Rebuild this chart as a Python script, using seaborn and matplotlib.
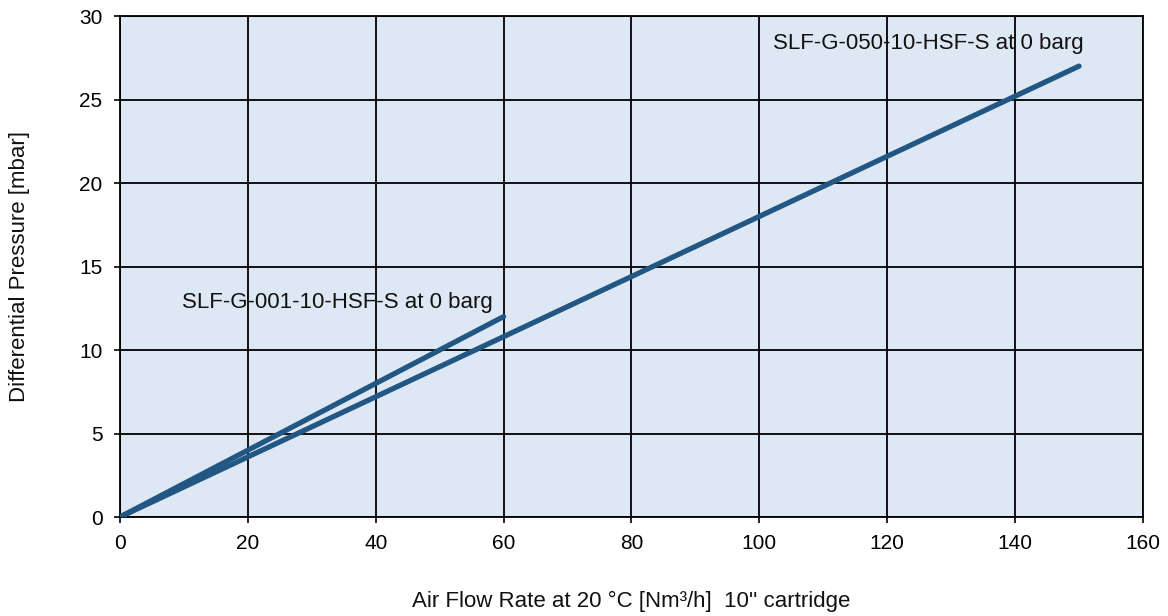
import matplotlib
matplotlib.use("Agg")
import matplotlib.pyplot as plt
import seaborn as sns
import pandas as pd

# Data
flow_001 = [0, 60]
dp_001 = [0, 12]
flow_050 = [0, 150]
dp_050 = [0, 27]
label_001 = "SLF-G-001-10-HSF-S at 0 barg"
label_050 = "SLF-G-050-10-HSF-S at 0 barg"
x_ticks = [0, 20, 40, 60, 80, 100, 120, 140, 160]
y_ticks = [0, 5, 10, 15, 20, 25, 30]

sns.set_style("ticks")
plt.rcParams['font.family'] = ['Liberation Sans', 'DejaVu Sans']

fig = plt.figure(figsize=(11.68, 6.16), dpi=100)
ax = fig.add_axes([0.1027, 0.1607, 0.8759, 0.8133])
ax.set_facecolor("#dde8f4")

line_color = "#225683"
df1 = pd.DataFrame({"x": flow_001, "y": dp_001})
df2 = pd.DataFrame({"x": flow_050, "y": dp_050})
sns.lineplot(data=df1, x="x", y="y", ax=ax, color=line_color, linewidth=3.8,
             solid_capstyle="round", zorder=3)
sns.lineplot(data=df2, x="x", y="y", ax=ax, color=line_color, linewidth=3.8,
             solid_capstyle="round", zorder=3)

ax.set_xlim(0, 160)
ax.set_ylim(0, 30)
ax.set_xticks(x_ticks)
ax.set_yticks(y_ticks)
ax.grid(True, color="black", linewidth=1.3)
for s in ax.spines.values():
    s.set_color("black")
    s.set_linewidth(1.3)
ax.tick_params(axis="both", labelsize=15, length=4.5, width=1.2, pad=8,
               color="black", labelcolor="black")

ax.text(9.7, 12.85, label_001, fontsize=16, va="center", ha="left", color="#111111", zorder=4)
ax.text(102.1, 28.35, label_050, fontsize=16, va="center", ha="left", color="#111111", zorder=4)

ax.set_xlabel("Air Flow Rate at 20 °C [Nm³/h]  10'' cartridge", fontsize=16, color="#111111")
ax.set_ylabel("Differential Pressure [mbar]", fontsize=16, color="#111111")
ax.xaxis.set_label_coords(0.5, -0.148)
ax.yaxis.set_label_coords(-0.088, 0.5)

fig.savefig("out.png", dpi=100)
